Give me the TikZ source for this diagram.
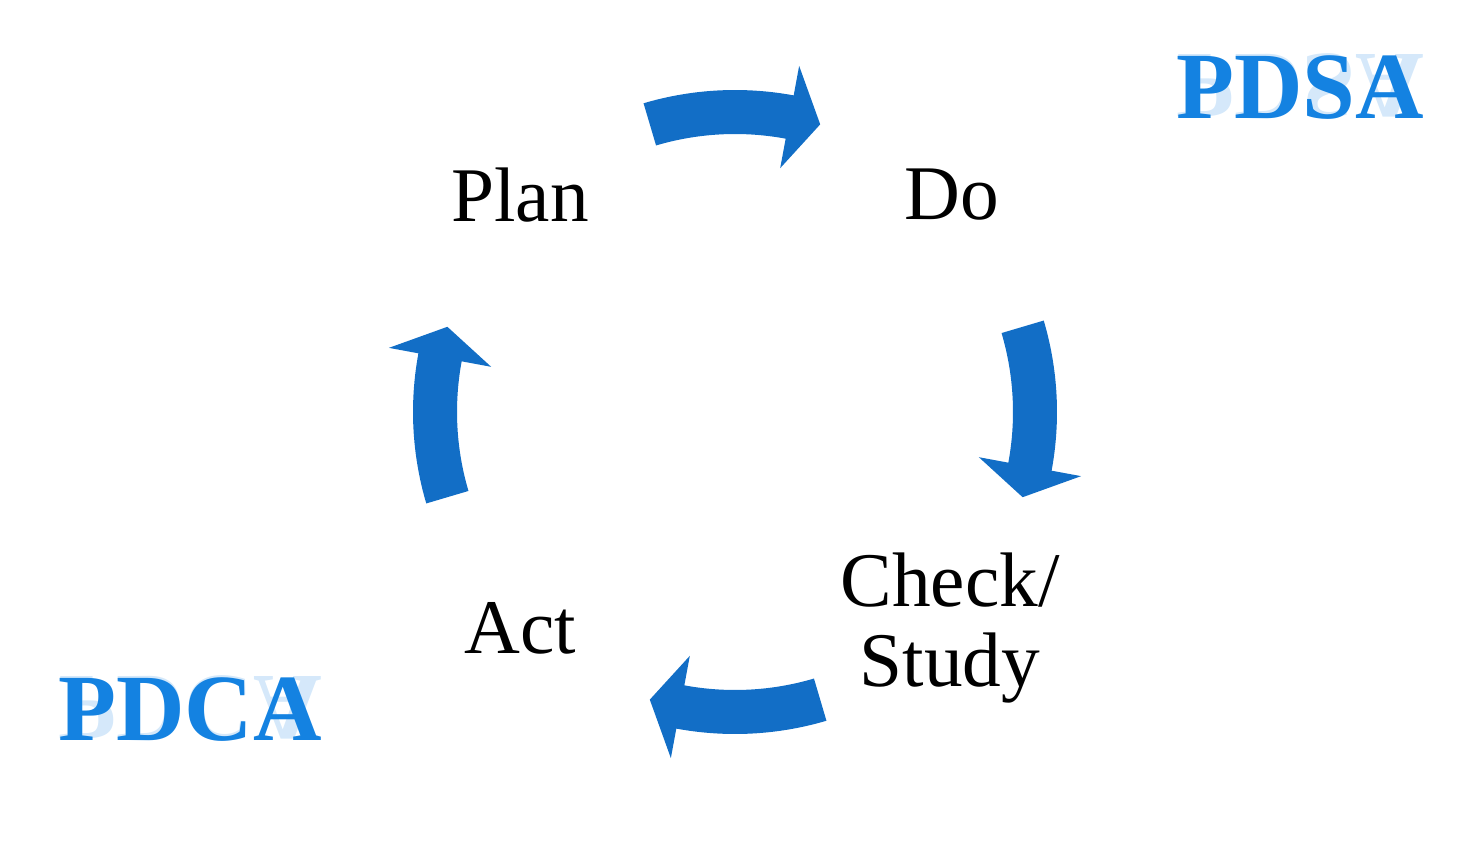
\documentclass[tikz,border=0pt]{standalone}
\usepackage{fontspec}
\setmainfont{Liberation Serif}
\definecolor{arr}{RGB}{18,110,198}
\definecolor{ttl}{RGB}{20,130,225}
\tikzset{
  lbl/.style={font=\fontsize{44}{46}\selectfont, align=center, inner sep=0pt},
  ttlstyle/.style={font=\bfseries\fontsize{54}{56}\selectfont, text=ttl, inner sep=0pt},
  refl/.style={font=\bfseries\fontsize{54}{56}\selectfont, text=ttl, inner sep=0pt, yscale=-1, opacity=0.18, anchor=north}
}
\begin{document}
\begin{tikzpicture}[x=0.02cm,y=0.02cm]
\useasboundingbox (0,0) rectangle (1481,-865);
\foreach \t in {90,0,-90,180}{
  \pgfmathsetmacro{\aa}{\t+16.5}
  \pgfmathsetmacro{\ab}{\t-10.5}
  \pgfmathsetmacro{\ac}{\t-16.5}
  \fill[arr,shift={(735,-412)}] (\aa:322) arc[start angle=\aa, end angle=\ab, radius=322]
     -- (\ab:352) -- (\ac:300) -- (\ab:248) -- (\ab:278)
     arc[start angle=\ab, end angle=\aa, radius=278] -- cycle;
}
\node[lbl] (plan) at (520,-195) {Plan};
\node[lbl] (do) at (952,-195) {Do};
\node[lbl] (check) at (950,-628) {Check/\\Study};
\node[lbl] (act) at (520,-628) {Act};
\node[ttlstyle, anchor=south] (pdsa) at (1300,-120) {PDSA};
\node[refl] (pdsar) at (1300,-118) {PDSA};
\node[ttlstyle, anchor=south] (pdca) at (190,-742) {PDCA};
\node[refl] (pdcar) at (190,-740) {PDCA};
\end{tikzpicture}
\end{document}
